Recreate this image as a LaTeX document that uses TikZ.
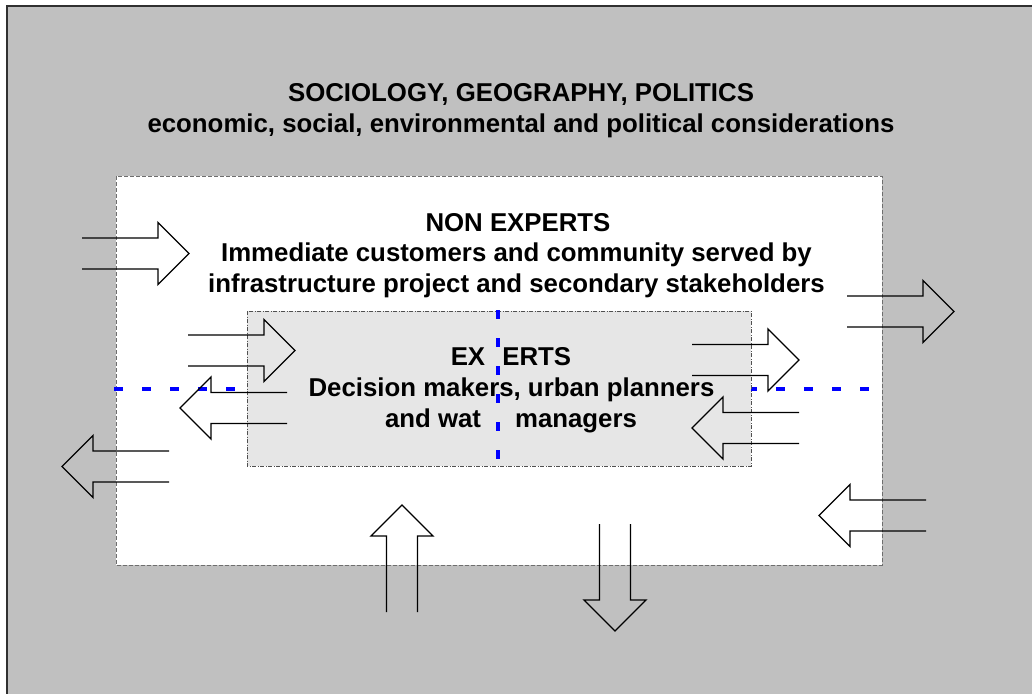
\documentclass[tikz,border=0pt]{standalone}
\usepackage{fontspec}
\setmainfont{Liberation Sans}
\definecolor{bggrey}{HTML}{C0C0C0}
\definecolor{innergrey}{HTML}{E6E6E6}
\definecolor{outline}{HTML}{303030}
\definecolor{boxline}{HTML}{6E6E6E}
\definecolor{innerline}{HTML}{505050}
\begin{document}
\begin{tikzpicture}[x=1pt,y=-1pt,
  lbl/.style={font=\fontsize{25.8}{31}\selectfont\bfseries, inner sep=0pt, anchor=base},
  arrowline/.style={black, line width=1.3pt, line join=miter},
  fatarrow/.pic={\draw[arrowline] (0,-15.5) -- (76,-15.5) -- (76,-31) -- (107,0) -- (76,31) -- (76,15.5) -- (0,15.5);},
  bluedash/.style={draw=blue, line width=4pt, dash pattern=on 9pt off 19pt},
  whitebox/.style={fill=white, draw=boxline, line width=1pt, dash pattern=on 4pt off 2pt},
  innerbox/.style={fill=innergrey, draw=innerline, line width=1pt, dash pattern=on 4pt off 1.5pt on 1pt off 1.5pt}]
\useasboundingbox (0,0) rectangle (1032,693);
\begin{scope}
  \clip (0,0) rectangle (1032,693);
  \path[fill=bggrey, draw=outline, line width=1.3pt] (7,6) rectangle (1045,705);
\end{scope}
% titles
\node[lbl] (title1) at (521,101.7) {SOCIOLOGY, GEOGRAPHY, POLITICS};
\node[lbl] (title2) at (521,132) {economic, social, environmental and political considerations};
% non-experts box
\path[whitebox] (116,176) rectangle (882,565);
\coordinate (hl1) at (114,389);
\coordinate (hl2) at (240,389);
\coordinate (hr1) at (748,389);
\coordinate (hr2) at (872,389);
\draw[bluedash] (hl1) -- (hl2);
\draw[bluedash] (hr1) -- (hr2);
\node[lbl] (non1) at (518,231) {NON EXPERTS};
\node[lbl] (non2) at (516.5,261.5) {Immediate customers and community served by};
\node[lbl] (non3) at (516.5,292) {infrastructure project and secondary stakeholders};
% experts box
\path[innerbox] (247,311) rectangle (751,466);
\node[lbl] (exp1) at (511,365) {EX\phantom{P}ERTS};
\node[lbl] (exp2) at (511.5,396) {Decision makers, urban planners};
\node[lbl] (exp3) at (511,427) {and wat\hspace{34pt}managers};
\coordinate (vt) at (498,310);
\coordinate (vb) at (498,460);
\draw[bluedash] (vt) -- (vb);
% block arrows
\pic at (82,253.5) {fatarrow};
\pic at (847,311.5) {fatarrow};
\pic at (188,350.5) {fatarrow};
\pic at (692,360) {fatarrow};
\pic[rotate=180] at (799,428) {fatarrow};
\pic[rotate=180] at (287,408) {fatarrow};
\pic[rotate=180] at (169,466.5) {fatarrow};
\pic[rotate=180] at (926,515.5) {fatarrow};
\pic[rotate=90] at (402,612) {fatarrow};
\pic[rotate=-90] at (615,524) {fatarrow};
\end{tikzpicture}
\end{document}
